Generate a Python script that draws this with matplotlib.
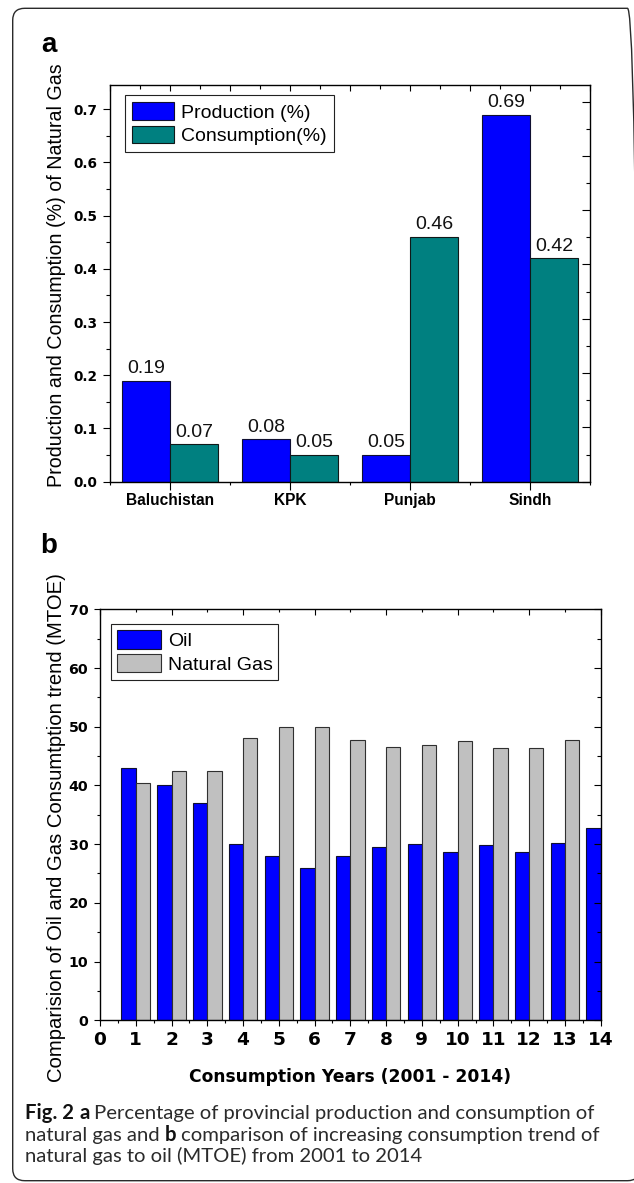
import matplotlib
matplotlib.use('Agg')
import matplotlib.pyplot as plt
from matplotlib.ticker import MultipleLocator
from matplotlib.patches import FancyBboxPatch
import numpy as np

# ---------------- data ----------------
provinces = ['Baluchistan', 'KPK', 'Punjab', 'Sindh']
production = [0.19, 0.08, 0.05, 0.69]
consumption = [0.07, 0.05, 0.46, 0.42]
a_yticks = [0.0, 0.1, 0.2, 0.3, 0.4, 0.5, 0.6, 0.7]
a_yticklabels = ['0.0', '0.1', '0.2', '0.3', '0.4', '0.5', '0.6', '0.7']

years = list(range(1, 15))
oil = [43.0, 40.0, 37.0, 30.0, 28.0, 26.0, 28.0, 29.5, 30.0, 28.6, 29.8, 28.6, 30.2, 32.8]
natural_gas = [40.4, 42.5, 42.5, 48.0, 50.0, 50.0, 47.8, 46.6, 46.8, 47.6, 46.4, 46.4, 47.8]  # year 14 clipped in source
b_xticks = list(range(0, 15))
b_xticklabels = [str(v) for v in b_xticks]
b_yticks = [0, 10, 20, 30, 40, 50, 60, 70]
b_yticklabels = [str(v) for v in b_yticks]

caption_lines = [
    [("Fig. 2", 'bold'), ("a", 'bold'), ("Percentage of provincial production and consumption of", 'normal')],
    [("natural gas and", 'normal'), ("b", 'bold'), ("comparison of increasing consumption trend of", 'normal')],
    [("natural gas to oil (MTOE) from 2001 to 2014", 'normal')],
]

# ---------------- layout helpers ----------------
W, H = 634, 1183
fig = plt.figure(figsize=(W / 100, H / 100), dpi=100)


def rect(l, t, r, b):
    return [l / W, 1 - b / H, (r - l) / W, (b - t) / H]


def fx(px):
    return px / W


def fy(py):
    return 1 - py / H


ARIAL = 'Liberation Sans'
WIDE = 'DejaVu Sans'
BLUE = '#0000ff'
TEAL = '#008080'
GREY = '#c0c0c0'
bw = 0.4

# border (right edge runs just outside the image, like the source)
border = FancyBboxPatch((12.7 / 100, (H - 1180.7) / 100), (639.5 - 12.7) / 100, (1180.7 - 8.3) / 100,
                        boxstyle='round,pad=0,rounding_size=0.12', transform=fig.dpi_scale_trans,
                        facecolor='none', edgecolor='#2a2a2a', linewidth=1.0)
fig.patches.append(border)

# ---------------- panel a ----------------
ax1 = fig.add_axes(rect(110, 85.3, 590, 481.7))
xa = np.arange(1, len(provinces) + 1)
bp = ax1.bar(xa - bw / 2, production, bw, color=BLUE, edgecolor='#101030', linewidth=0.8,
             label='Production (%)', zorder=2)
bc = ax1.bar(xa + bw / 2, consumption, bw, color=TEAL, edgecolor='#101818', linewidth=0.8,
             label='Consumption(%)', zorder=2)
ax1.set_xlim(0.5, 4.5)
ax1.set_ylim(0, 0.745)
for bars, vals in ((bp, production), (bc, consumption)):
    for r_, v in zip(bars, vals):
        ax1.annotate(f'{v:.2f}', (r_.get_x() + r_.get_width() / 2, v), xytext=(0, 2.6),
                     textcoords='offset points', ha='center', va='bottom',
                     family=ARIAL, fontsize=14, color='#111111')

ax1.set_xticks(xa, labels=provinces, family=ARIAL, fontweight='bold', fontsize=11.2)
ax1.xaxis.set_minor_locator(MultipleLocator(0.5))
ax1.set_yticks(a_yticks, labels=a_yticklabels, family=WIDE, fontweight='bold', fontsize=9.8)
ax1.yaxis.set_minor_locator(MultipleLocator(0.05))
ax1.tick_params(axis='x', which='major', direction='out', length=5.8, width=0.8, pad=2.5, top=False)
ax1.tick_params(axis='x', which='minor', direction='out', length=2.2, width=0.8, top=False)
ax1.tick_params(axis='y', which='major', direction='out', length=5.0, width=0.8, pad=4.0, right=False)
ax1.tick_params(axis='y', which='minor', direction='out', length=2.9, width=0.8, right=False)
for s in ax1.spines.values():
    s.set_linewidth(1.0)

axT = ax1.twiny()
axT.set_xlim(0.5, 4.5)
axT.xaxis.set_major_locator(MultipleLocator(0.5))
axT.xaxis.set_minor_locator(MultipleLocator(0.25))
axT.tick_params(axis='x', which='major', direction='in', length=4.5, width=0.8, labeltop=False, top=True, bottom=False)
axT.tick_params(axis='x', which='minor', direction='in', length=3.0, width=0.8, top=True, bottom=False)
for s in axT.spines.values():
    s.set_visible(False)

axR = ax1.twinx()
axR.set_ylim(0, 0.73)
axR.yaxis.set_major_locator(MultipleLocator(0.1))
axR.yaxis.set_minor_locator(MultipleLocator(0.05))
axR.tick_params(axis='y', which='major', direction='in', length=6.0, width=0.8, labelright=False, right=True, left=False)
axR.tick_params(axis='y', which='minor', direction='in', length=3.0, width=0.8, right=True, left=False)
for s in axR.spines.values():
    s.set_visible(False)

leg1 = ax1.legend(handles=[bp, bc], loc='upper left', bbox_to_anchor=(0.03125, 0.9747), borderaxespad=0,
                  prop={'family': ARIAL, 'size': 14}, handlelength=2.15, handleheight=1.03,
                  handletextpad=0.4, labelspacing=0.2, borderpad=0.35, fancybox=False,
                  edgecolor='#222222', framealpha=1)
leg1.get_frame().set_linewidth(0.8)

# ---------------- panel b ----------------
ax2 = fig.add_axes(rect(100, 609.3, 600.7, 1020.2))
yr = np.array(years)
bo = ax2.bar(yr - bw / 2, oil, bw, color=BLUE, edgecolor='#101030', linewidth=0.8, label='Oil', zorder=2)
bg = ax2.bar(yr[:len(natural_gas)] + bw / 2, natural_gas, bw, color=GREY, edgecolor='#303030',
             linewidth=0.8, label='Natural Gas', zorder=2)
ax2.set_xlim(0, 14)
ax2.set_ylim(0, 70)
ax2.set_xticks(b_xticks, labels=b_xticklabels, family=WIDE, fontweight='bold', fontsize=13.3)
ax2.xaxis.set_minor_locator(MultipleLocator(0.5))
ax2.set_yticks(b_yticks, labels=b_yticklabels, family=WIDE, fontweight='bold', fontsize=10.2)
ax2.yaxis.set_minor_locator(MultipleLocator(5))
ax2.tick_params(axis='x', which='major', direction='out', length=4.5, width=0.8, pad=3.0, top=False)
ax2.tick_params(axis='x', which='minor', direction='out', length=2.0, width=0.8, top=False)
ax2.tick_params(axis='y', which='major', direction='out', length=4.5, width=0.8, pad=4.0, right=False)
ax2.tick_params(axis='y', which='minor', direction='out', length=2.0, width=0.8, right=False)
for s in ax2.spines.values():
    s.set_linewidth(1.0)

axT2 = ax2.twiny()
axT2.set_xlim(0, 14)
axT2.xaxis.set_major_locator(MultipleLocator(2))
axT2.xaxis.set_minor_locator(MultipleLocator(1))
axT2.tick_params(axis='x', which='major', direction='in', length=4.0, width=0.8, labeltop=False, top=True, bottom=False)
axT2.tick_params(axis='x', which='minor', direction='in', length=2.5, width=0.8, top=True, bottom=False)
for s in axT2.spines.values():
    s.set_visible(False)

axR2 = ax2.twinx()
axR2.set_ylim(0, 70)
axR2.yaxis.set_major_locator(MultipleLocator(10))
axR2.yaxis.set_minor_locator(MultipleLocator(5))
axR2.tick_params(axis='y', which='major', direction='in', length=5.0, width=0.8, labelright=False, right=True, left=False)
axR2.tick_params(axis='y', which='minor', direction='in', length=3.0, width=0.8, right=True, left=False)
for s in axR2.spines.values():
    s.set_visible(False)

leg2 = ax2.legend(handles=[bo, bg], loc='upper left', bbox_to_anchor=(0.0214, 0.9635), borderaxespad=0,
                  prop={'family': ARIAL, 'size': 14}, handlelength=2.3, handleheight=1.08,
                  handletextpad=0.33, labelspacing=0.2, borderpad=0.3, fancybox=False,
                  edgecolor='#222222', framealpha=1)
leg2.get_frame().set_linewidth(0.8)

# ---------------- labels ----------------
fig.text(fx(41), fy(51.7), 'a', family=ARIAL, weight='bold', size=20, ha='left', va='baseline')
fig.text(fx(40.5), fy(553.3), 'b', family=ARIAL, weight='bold', size=20, ha='left', va='baseline')
fig.text(fx(56.4), fy(275), 'Production and Consumption (%) of Natural Gas', rotation=90,
         ha='center', va='center', family=ARIAL, size=14.1)
fig.text(fx(57), fy(828), 'Comparision of Oil and Gas Consumtption trend (MTOE)', rotation=90,
         ha='center', va='center', family=ARIAL, size=14.6)
fig.text(fx(350.4), fy(1081.7), 'Consumption Years (2001 - 2014)', ha='center', va='baseline',
         family=WIDE, weight='bold', size=12.3)

# ---------------- caption ----------------
fig.canvas.draw()
renderer = fig.canvas.get_renderer()
CAP_FONT = 'Lato'


def measure(s, size, weight):
    t = fig.text(0, 0, s, family=CAP_FONT, size=size, weight=weight)
    w = t.get_window_extent(renderer).width
    t.remove()
    return w


base = 12.0
space0 = measure('n n', base, 'normal') - measure('nn', base, 'normal')
w1 = sum(measure(s, base, wt) for s, wt in caption_lines[0]) + space0 * (len(caption_lines[0]) - 1)
cap_size = base * 569.0 / w1
space = measure('n n', cap_size, 'normal') - measure('nn', cap_size, 'normal')
baselines = [1119.3, 1140.8, 1162.0]
for line, yb in zip(caption_lines, baselines):
    xpos = 25.0
    for s, wt in line:
        fig.text(fx(xpos), fy(yb), s, family=CAP_FONT, size=cap_size, weight=wt,
                 color='#111111' if wt == 'bold' else '#2b2b2b', ha='left', va='baseline')
        xpos += measure(s, cap_size, wt) + space

fig.savefig('out.png', dpi=100)
